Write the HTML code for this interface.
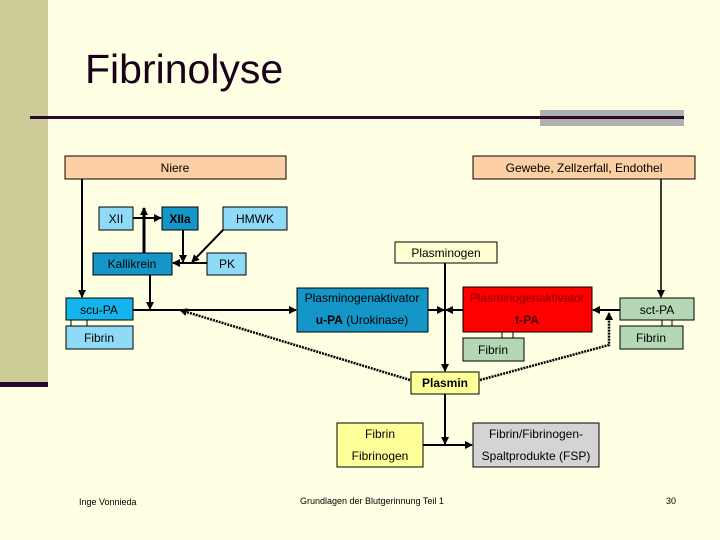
<!DOCTYPE html>
<html><head><meta charset="utf-8"><style>
html,body{margin:0;padding:0;background:#ffffe3;}
svg{display:block;font-family:"Liberation Sans",sans-serif;}
</style></head><body>
<svg width="720" height="540" viewBox="0 0 720 540" xmlns="http://www.w3.org/2000/svg">
<defs>
<marker id="a" markerWidth="8" markerHeight="8" refX="7" refY="4" orient="auto" markerUnits="userSpaceOnUse"><path d="M0,0 L8,4 L0,8 z" fill="#000"/></marker>
</defs>
<rect width="720" height="540" fill="#ffffe3"/>
<rect x="0" y="0" width="48" height="382" fill="#cccc99"/>
<rect x="0" y="382" width="48" height="5" fill="#2a0a2a"/>
<text x="85" y="83" font-size="41" fill="#1a001a">Fibrinolyse</text>
<rect x="540" y="110" width="144" height="16" fill="#b0b0b0"/>
<rect x="30" y="116" width="654" height="3" fill="#2a0a2a"/>

<g stroke="#000" font-size="12" text-anchor="middle">
<rect x="65" y="156" width="221" height="23" fill="#fccfa4"/>
<rect x="473" y="156" width="222" height="23" fill="#fccfa4"/>
<rect x="99" y="207" width="34" height="23" fill="#8fdaf7"/>
<rect x="162" y="207" width="36" height="23" fill="#1496c8"/>
<rect x="223" y="207" width="64" height="23" fill="#8fdaf7"/>
<rect x="93" y="253" width="79" height="22" fill="#1496c8"/>
<rect x="207" y="253" width="39" height="22" fill="#8fdaf7"/>
<rect x="395" y="242" width="102" height="21" fill="#ffffd2"/>
<rect x="66" y="298" width="67" height="22" fill="#14b4ec"/>
<rect x="66" y="326" width="67" height="23" fill="#8fdaf7"/>
<rect x="297" y="288" width="131" height="44" fill="#1496c8"/>
<rect x="463" y="287" width="129" height="45" fill="#ff0000"/>
<rect x="463" y="338" width="61" height="23" fill="#b4d8b4"/>
<rect x="620" y="298" width="74" height="22" fill="#b4d8b4"/>
<rect x="620" y="326" width="63" height="23" fill="#b4d8b4"/>
<rect x="411" y="372" width="68" height="22" fill="#ffff99"/>
<rect x="337" y="423" width="86" height="44" fill="#ffff99"/>
<rect x="473" y="423" width="126" height="44" fill="#d4d4d4"/>
</g>
<g stroke="#000" stroke-width="1" fill="none">
<path d="M71 320V326M87 320V326M502 332V338M513 332V338M662 320V326M672 320V326"/>
</g>
<g stroke="#000" stroke-width="2" fill="none" marker-end="url(#a)">
<path d="M82 179V297"/>
<path d="M661 179V297" stroke-width="1.5"/>
<path d="M133 218H161"/>
<path d="M144 253V208" stroke-width="3"/>
<path d="M183 230V262"/>
<path d="M223 230L192 262"/>
<path d="M207 263H173"/>
<path d="M150 275V309"/>
<path d="M133 310H296"/>
<path d="M428 310H444"/>
<path d="M463 310H446"/>
<path d="M620 310H593"/>
<path d="M445 263V371"/>
<path d="M445 394V444"/>
<path d="M423 445H472"/>
</g>
<g stroke="#000" stroke-width="2.5" fill="none" stroke-dasharray="2,1" marker-end="url(#a)">
<path d="M410 380L180 310"/>
<path d="M480 380L609 345V313"/>
</g>
<g font-size="12" text-anchor="middle" fill="#000">
<text x="175" y="172">Niere</text>
<text x="584" y="172">Gewebe, Zellzerfall, Endothel</text>
<text x="116" y="223">XII</text>
<text x="180" y="223" font-weight="bold">XIIa</text>
<text x="255" y="223">HMWK</text>
<text x="132" y="268">Kallikrein</text>
<text x="227" y="268">PK</text>
<text x="446" y="257">Plasminogen</text>
<text x="99" y="314">scu-PA</text>
<text x="99" y="342">Fibrin</text>
<text x="362" y="302">Plasminogenaktivator</text>
<text x="362" y="324"><tspan font-weight="bold">u-PA</tspan> (Urokinase)</text>
<text x="527" y="302" fill="#880000">Plasminogenaktivator</text>
<text x="527" y="324" font-weight="bold" fill="#440000">t-PA</text>
<text x="493" y="354">Fibrin</text>
<text x="657" y="314">sct-PA</text>
<text x="651" y="342">Fibrin</text>
<text x="445" y="387" font-weight="bold">Plasmin</text>
<text x="380" y="438">Fibrin</text>
<text x="380" y="460">Fibrinogen</text>
<text x="536" y="438">Fibrin/Fibrinogen-</text>
<text x="536" y="460">Spaltprodukte (FSP)</text>
</g>
<g font-size="9" fill="#000">
<text x="79" y="505">Inge Vonnieda</text>
<text x="300" y="504">Grundlagen der Blutgerinnung Teil 1</text>
<text x="666" y="504">30</text>
</g>
</svg>
</body></html>
